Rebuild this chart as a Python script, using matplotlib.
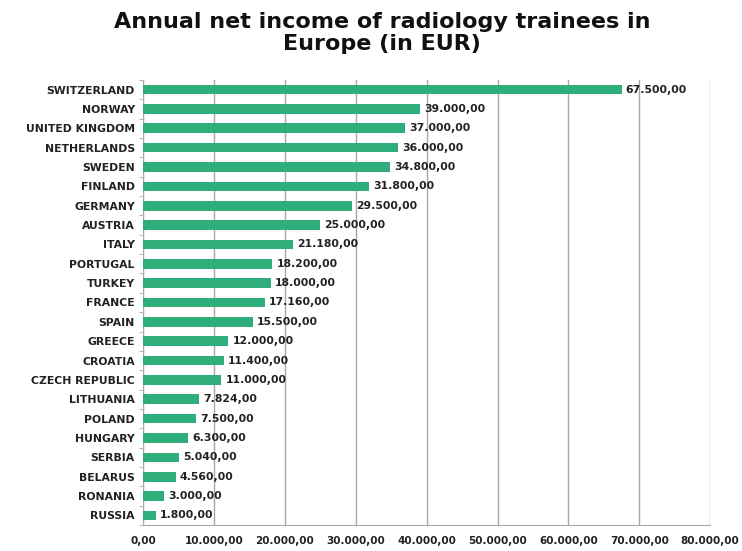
import matplotlib
matplotlib.use("Agg")
import matplotlib.pyplot as plt
from matplotlib.ticker import FuncFormatter, MultipleLocator

countries = ["SWITZERLAND", "NORWAY", "UNITED KINGDOM", "NETHERLANDS", "SWEDEN",
             "FINLAND", "GERMANY", "AUSTRIA", "ITALY", "PORTUGAL", "TURKEY",
             "FRANCE", "SPAIN", "GREECE", "CROATIA", "CZECH REPUBLIC", "LITHUANIA",
             "POLAND", "HUNGARY", "SERBIA", "BELARUS", "RONANIA", "RUSSIA"]
values = [67500, 39000, 37000, 36000, 34800, 31800, 29500, 25000, 21180, 18200,
          18000, 17160, 15500, 12000, 11400, 11000, 7824, 7500, 6300, 5040, 4560,
          3000, 1800]

def eur(v, pos=None):
    s = f"{v:,.2f}"
    return s.replace(",", "X").replace(".", ",").replace("X", ".")

fig = plt.figure(figsize=(7.42, 5.51), dpi=100)
ax = fig.add_axes([0.193, 0.047, 0.764, 0.808])

y = list(range(len(countries)))
ax.barh(y, values, height=0.5, color="#2fae7c", zorder=3)
ax.set_yticks(y)
ax.set_yticklabels(countries, fontsize=7.8, fontweight="bold", color="#222222")
ax.set_ylim(len(countries) - 0.5, -0.5)
ax.set_xlim(0, 80000)
ax.xaxis.set_major_locator(MultipleLocator(10000))
ax.xaxis.set_major_formatter(FuncFormatter(eur))
ax.tick_params(axis="x", labelsize=7.5, length=0, pad=8)
for lab in ax.get_xticklabels():
    lab.set_fontweight("bold")
    lab.set_color("#222222")
ax.tick_params(axis="y", length=0, pad=6)
ax.set_yticks([i + 0.5 for i in range(-1, len(countries))], minor=True)
ax.tick_params(axis="y", which="minor", length=3, color="#aaaaaa")

ax.grid(axis="x", color="#a8a8a8", linewidth=1.0, zorder=0)
for side in ["top", "right"]:
    ax.spines[side].set_visible(False)
ax.spines["left"].set_color("#aaaaaa")
ax.spines["bottom"].set_color("#aaaaaa")

for yi, v in zip(y, values):
    ax.text(v + 600, yi, eur(v), va="center", ha="left", fontsize=7.8,
            fontweight="semibold", color="#222222", zorder=4)

fig.text(0.515, 0.978, "Annual net income of radiology trainees in\nEurope (in EUR)",
         ha="center", va="top", fontsize=16, fontweight="bold", color="#111111",
         linespacing=1.1)

fig.savefig("out.png", dpi=100)
